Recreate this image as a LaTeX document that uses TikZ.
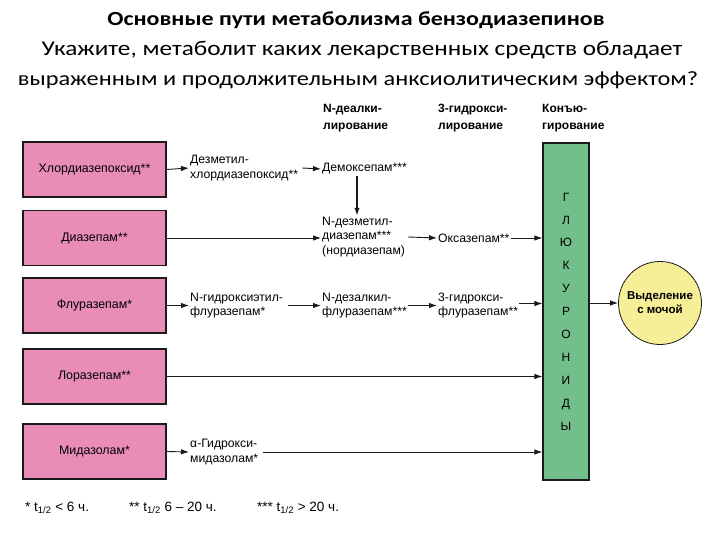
\documentclass[tikz,border=0pt]{standalone}
\usepackage{fontspec}
\setmainfont{Liberation Sans}
\newfontfamily\titlefont[FakeStretch=1.2]{Carlito}
\usepackage{xcolor}
\usepackage{tikz}
\usetikzlibrary{arrows.meta,positioning,calc}
\definecolor{cDrug}{HTML}{E98CB8}
\definecolor{cGluc}{HTML}{73BF8C}
\definecolor{cUrine}{HTML}{F7EE98}
\definecolor{cLine}{HTML}{1A1A1A}
\tikzset{
  drug/.style ={draw=cLine, fill=cDrug, line width=1.1pt, minimum width=143pt,
                minimum height=55pt, inner sep=0pt, font=\fontsize{12.4}{14}\selectfont},
  metab/.style={anchor=west, align=left, inner sep=1pt,
                font=\fontsize{12.2}{14.5}\selectfont},
  head/.style ={anchor=west, align=left, inner sep=0pt,
                font=\bfseries\fontsize{12}{16.5}\selectfont},
  gluc/.style ={draw=cLine, fill=cGluc, line width=1.1pt, minimum width=46pt,
                minimum height=337pt, inner sep=0pt, align=center,
                font=\fontsize{12}{22.9}\selectfont},
  urine/.style={draw=cLine, fill=cUrine, circle, line width=0.8pt, minimum size=83pt,
                inner sep=0pt, align=center, font=\bfseries\fontsize{11.5}{14}\selectfont},
  arrow/.style={-{Latex[length=8pt,width=5.5pt]}, line width=0.9pt, draw=cLine},
  note/.style ={anchor=west, inner sep=0pt, font=\fontsize{13.5}{15}\selectfont},
}
\begin{document}
\begin{tikzpicture}[x=1pt,y=-1pt]
  \useasboundingbox (0,0) rectangle (720,540);
  % title
  \node[font=\titlefont\bfseries\fontsize{20}{24}\selectfont] (t1) at (356,20)
    {Основные пути метаболизма бензодиазепинов};
  \node[font=\titlefont\fontsize{21}{24}\selectfont] (t2) at (362,50)
    {Укажите, метаболит каких лекарственных средств обладает};
  \node[font=\titlefont\fontsize{20.3}{24}\selectfont] (t3) at (358,80)
    {выраженным и продолжительным анксиолитическим эффектом?};
  % column heads
  \node[head] (h1) at (323,118) {N-деалки-\\лирование};
  \node[head] (h2) at (438,118) {3-гидрокси-\\лирование};
  \node[head] (h3) at (542,118) {Конъю-\\гирование};
  % drugs
  \node[drug] (hlor) at (94.5,169.5) {Хлордиазепоксид**};
  \node[drug] (diaz) at (94.5,238)   {Диазепам**};
  \node[drug] (flur) at (94.5,305.5) {Флуразепам*};
  \node[drug] (lora) at (94.5,376.5) {Лоразепам**};
  \node[drug] (mida) at (94.5,451.5) {Мидазолам*};
  % glucuronides and excretion
  \node[gluc] (glu) at (566,311.5) {Г\\Л\\Ю\\К\\У\\Р\\О\\Н\\И\\Д\\Ы};
  \node[urine] (urine) at (660,303) {Выделение\\с мочой};
  % metabolites
  \node[metab] (dmhl)   at (189,168)   {Дезметил-\\хлордиазепоксид**};
  \node[metab] (demox)  at (321,169)   {Демоксепам***};
  \node[metab] (ndesm)  at (321,237)   {N-дезметил-\\диазепам***\\(нордиазепам)};
  \node[metab] (oxaz)   at (437,238)   {Оксазепам**};
  \node[metab] (hyet)   at (189,305.5) {N-гидроксиэтил-\\флуразепам*};
  \node[metab] (ndesal) at (321,305.5) {N-дезалкил-\\флуразепам***};
  \node[metab] (hyfl)   at (437,305.5) {3-гидрокси-\\флуразепам**};
  \node[metab] (ahyd)   at (189,452)   {α-Гидрокси-\\мидазолам*};
  \coordinate (dv) at ($(demox.south west)+(36,0)$);
  \coordinate (dn) at ($(ndesm.north west)+(36,0)$);
  \coordinate (hf) at ($(hyfl.east)+(0,-2)$);
  % connectors
  \draw[arrow, line width=1.6pt] (dv) -- (dn);
  \draw[arrow] (hlor.east) -- (dmhl.west);
  \draw[arrow] (dmhl.east) ++(3,0) -- (demox.west);
  \draw[arrow] (diaz.east) -- (diaz.east -| ndesm.west);
  \draw[arrow] (ndesm.east) ++(2,0) -- (oxaz.west);
  \draw[arrow] (oxaz.east) -- (oxaz.east -| glu.west);
  \draw[arrow] (flur.east) -- (hyet.west);
  \draw[arrow] (hyet.east) ++(4,0) -- (ndesal.west);
  \draw[arrow] (ndesal.east) -- (hyfl.west);
  \draw[arrow] (hf) -- (hf -| glu.west);
  \draw[arrow] (lora.east) -- (lora.east -| glu.west);
  \draw[arrow] (mida.east) -- (ahyd.west);
  \draw[arrow] (ahyd.east) ++(4,0) -- (ahyd.east -| glu.west);
  \draw[arrow] (glu.east |- urine.west) -- (urine.west);
  % half-lives
  \node[note] (f1) at (25,508)  {* t\textsubscript{1/2} < 6 ч.};
  \node[note] (f2) at (129,508) {** t\textsubscript{1/2} 6 – 20 ч.};
  \node[note] (f3) at (257,508) {*** t\textsubscript{1/2} > 20 ч.};
\end{tikzpicture}
\end{document}
